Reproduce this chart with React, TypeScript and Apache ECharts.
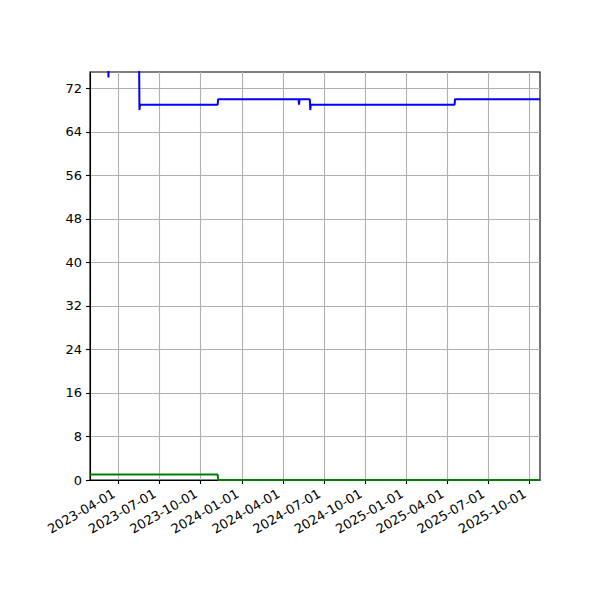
import { useEffect, useRef } from 'react';
import * as echarts from 'echarts';

// step-like series, one point per change (plus the day before/after)
const blueDates = [
  '2023-01-28', '2023-03-09', '2023-03-10', '2023-03-11', '2023-05-17', '2023-05-18',
  '2023-05-19', '2023-11-08', '2023-11-09', '2024-05-06', '2024-05-07', '2024-05-08',
  '2024-05-31', '2024-06-01', '2024-06-02', '2025-04-18', '2025-04-19', '2025-10-25',
];
const blueValues = [80, 80, 74, 80, 80, 68, 69, 69, 70, 70, 69, 70, 70, 68, 69, 69, 70, 70];

const greenDates = ['2023-01-28', '2023-11-08', '2023-11-09', '2025-10-25'];
const greenValues = [1, 1, 0, 0];

const xTickDates = [
  '2023-04-01', '2023-07-01', '2023-10-01', '2024-01-01', '2024-04-01', '2024-07-01',
  '2024-10-01', '2025-01-01', '2025-04-01', '2025-07-01', '2025-10-01',
];
const yTicks = [0, 8, 16, 24, 32, 40, 48, 56, 64, 72];

const X_MIN = '2023-01-28';
const X_MAX = '2025-10-25';
const Y_MAX = 75;

const toTime = (d: string) => new Date(d + 'T00:00:00').getTime();
const pad = (n: number) => (n < 10 ? '0' + n : '' + n);

export default function App() {
  const chartRef = useRef<HTMLDivElement>(null);

  useEffect(() => {
    document.body.style.margin = '0';
    if (!chartRef.current) return;
    const chart = echarts.init(chartRef.current, undefined, { renderer: 'svg' });

    const font = { fontFamily: 'DejaVu Sans', fontSize: 13, color: '#000' };
    const gridLine = { show: true, lineStyle: { color: '#b0b0b0', width: 1.1 } };

    const option: echarts.EChartsOption = {
      animation: false,
      backgroundColor: '#fff',
      grid: {
        left: 90, right: 60, top: 72, bottom: 120,
        show: true, borderColor: '#000', borderWidth: 1.1,
        containLabel: false,
      },
      // timestamps on a value axis so the quarter ticks can be given exactly
      xAxis: {
        type: 'value',
        min: toTime(X_MIN),
        max: toTime(X_MAX),
        axisLine: { show: true, onZero: false, lineStyle: { color: '#000', width: 1.1 } },
        axisTick: {
          show: true, length: 4, inside: false,
          lineStyle: { color: '#000', width: 1.1 },
          customValues: xTickDates.map(toTime),
        },
        axisLabel: {
          ...font,
          rotate: 30,
          margin: 10,
          padding: [0, 5, 0, 0],
          hideOverlap: false,
          customValues: xTickDates.map(toTime),
          formatter: (v: number) => {
            const d = new Date(v);
            return `${d.getFullYear()}-${pad(d.getMonth() + 1)}-${pad(d.getDate())}`;
          },
        },
        splitLine: gridLine,
      },
      yAxis: {
        type: 'value',
        min: 0,
        max: Y_MAX,
        axisLine: { show: true, lineStyle: { color: '#000', width: 1.1 } },
        axisTick: {
          show: true, length: 4, inside: false,
          lineStyle: { color: '#000', width: 1.1 },
          customValues: yTicks,
        },
        axisLabel: { ...font, margin: 8, customValues: yTicks },
        splitLine: gridLine,
      },
      series: [
        {
          type: 'line',
          data: blueDates.map((d, i) => [toTime(d), blueValues[i]]),
          showSymbol: false,
          clip: true,
          lineStyle: { color: '#0000ff', width: 2 },
          itemStyle: { color: '#0000ff' },
        },
        {
          type: 'line',
          data: greenDates.map((d, i) => [toTime(d), greenValues[i]]),
          showSymbol: false,
          clip: true,
          lineStyle: { color: '#008000', width: 2 },
          itemStyle: { color: '#008000' },
        },
      ],
    };

    chart.setOption(option);
    return () => chart.dispose();
  }, []);

  return <div ref={chartRef} style={{ width: 600, height: 600 }} />;
}
